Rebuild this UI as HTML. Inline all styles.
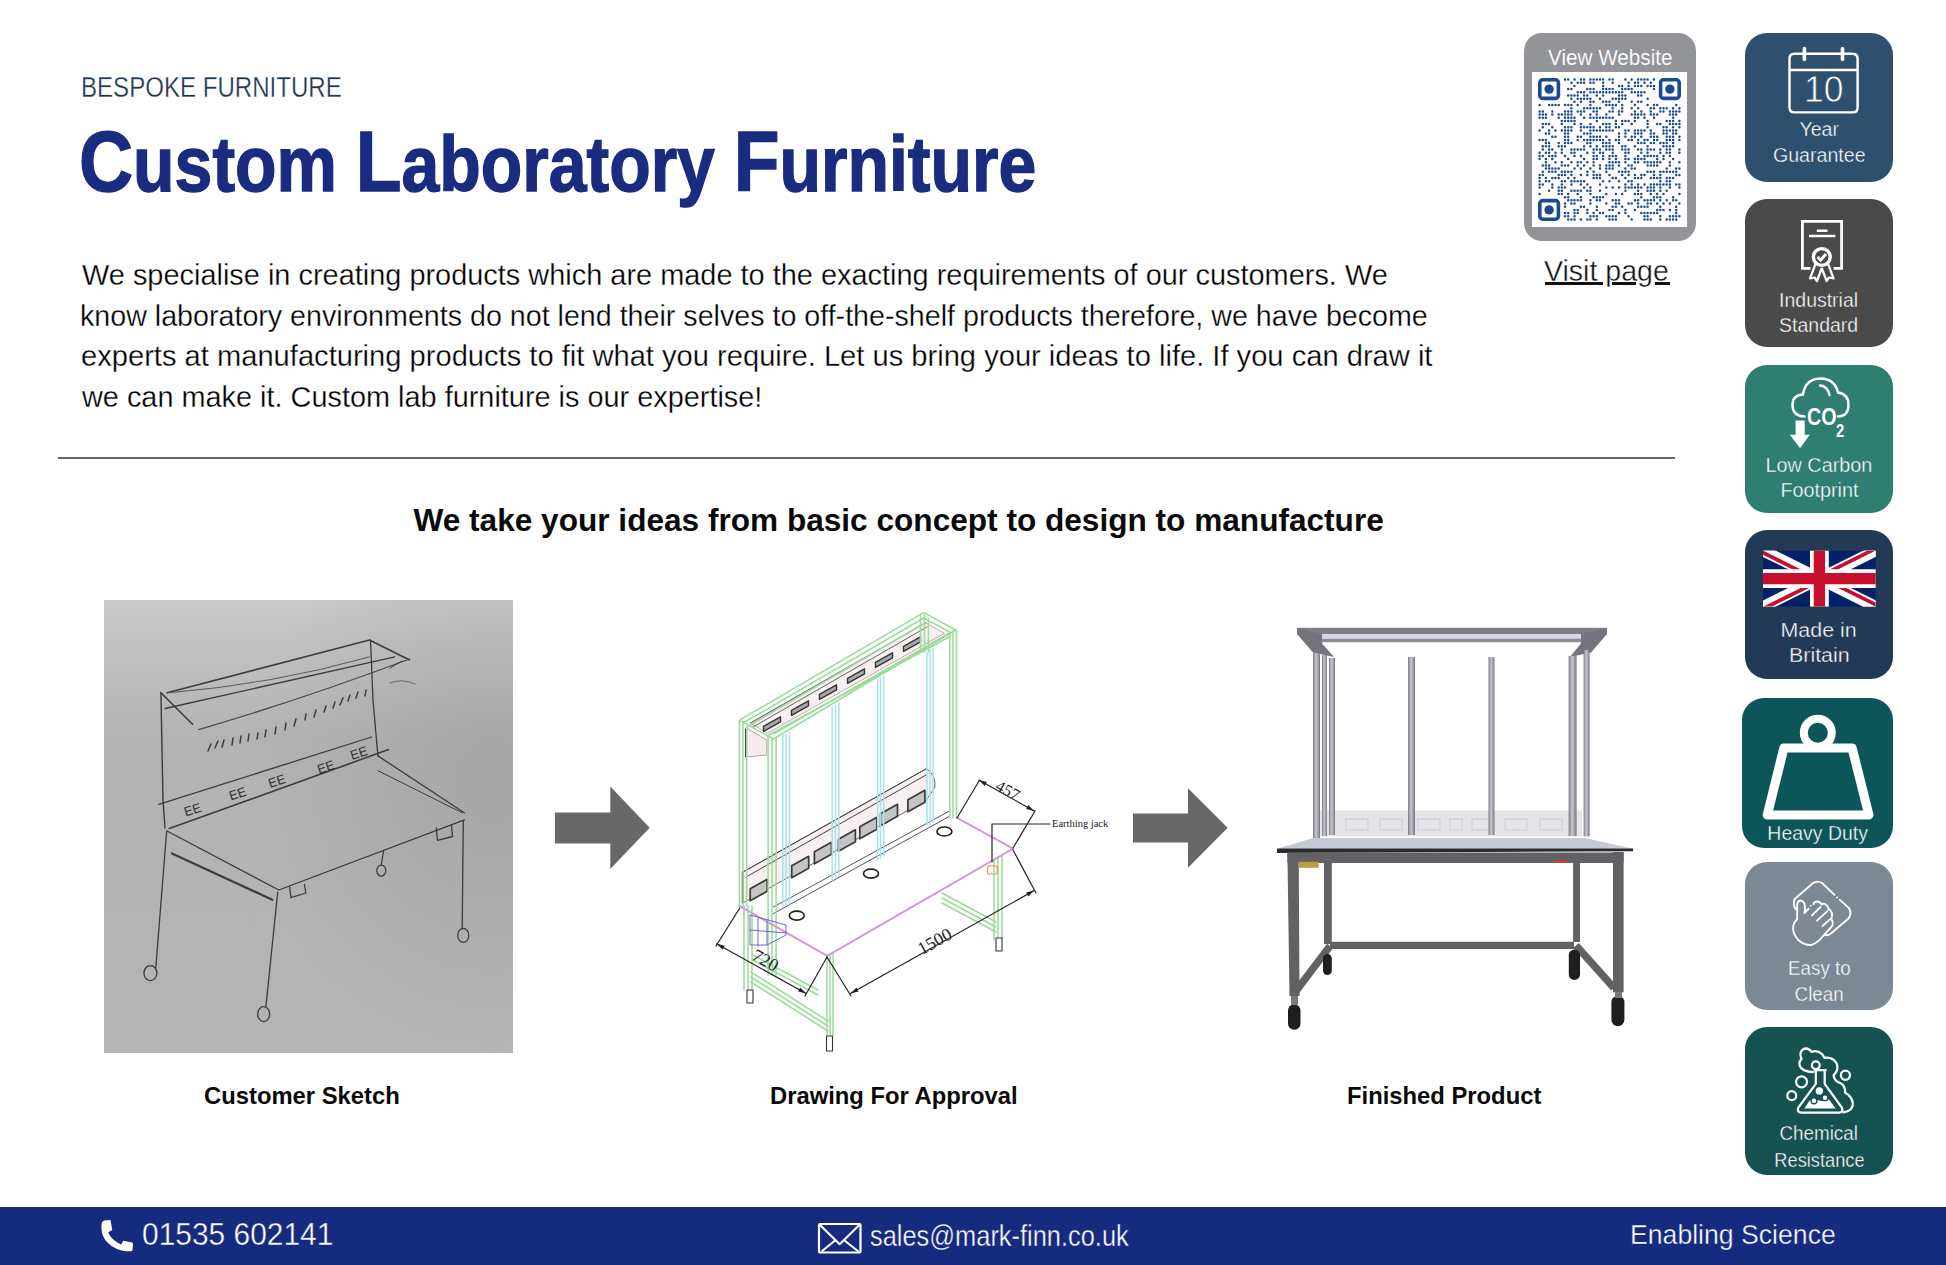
<!DOCTYPE html>
<html><head><meta charset="utf-8">
<style>
html,body{margin:0;padding:0;background:#fff;}
body{width:1946px;height:1265px;position:relative;overflow:hidden;font-family:"Liberation Sans",sans-serif;}
.a{position:absolute;white-space:nowrap;transform-origin:0 0;line-height:1;}
.box{position:absolute;border-radius:22px;}
.lbl{position:absolute;left:0;width:148px;text-align:center;color:#fff;font-size:20px;line-height:26px;white-space:nowrap;}
.lbl span{display:inline-block;}
svg{position:absolute;overflow:visible;}
</style></head><body>

<!-- header text -->
<div class="a m" id="sub" style="left:81px;top:73px;font-size:29px;color:#1d3651;-webkit-text-stroke:0.3px #fff;transform:scaleX(0.83)">BESPOKE FURNITURE</div>
<div class="a m" id="title" style="left:78.5px;top:118px;font-size:78px;font-weight:700;color:#1a2c80;-webkit-text-stroke:1.4px #1a2c80;transform:scaleX(0.871)"><span style="font-size:86px">C</span>ustom <span style="font-size:86px">L</span>aboratory <span style="font-size:86px">F</span>urniture</div>

<div class="a m" id="b1" style="left:81.5px;top:260px;font-size:30px;color:#000;-webkit-text-stroke:0.3px #fff;transform:scaleX(0.964)">We specialise in creating products which are made to the exacting requirements of our customers. We</div>
<div class="a m" id="b2" style="left:79.6px;top:301px;font-size:30px;color:#000;-webkit-text-stroke:0.3px #fff;transform:scaleX(0.9546)">know laboratory environments do not lend their selves to off-the-shelf products therefore, we have become</div>
<div class="a m" id="b3" style="left:80.6px;top:341px;font-size:30px;color:#000;-webkit-text-stroke:0.3px #fff;transform:scaleX(0.9706)">experts at manufacturing products to fit what you require. Let us bring your ideas to life. If you can draw it</div>
<div class="a m" id="b4" style="left:81.5px;top:382px;font-size:30px;color:#000;-webkit-text-stroke:0.3px #fff;transform:scaleX(0.9624)">we can make it. Custom lab furniture is our expertise!</div>

<div style="position:absolute;left:58px;top:457px;width:1617px;height:2px;background:#676767"></div>

<div class="a m" id="h2" style="left:413.5px;top:505px;font-size:31.6px;font-weight:700;color:#0a0a0a">We take your ideas from basic concept to design to manufacture</div>

<div class="a m" id="c1" style="left:204px;top:1084px;font-size:23.8px;font-weight:700;color:#0a0a0a">Customer Sketch</div>
<div class="a m" id="c2" style="left:770px;top:1084px;font-size:23.8px;font-weight:700;color:#0a0a0a">Drawing For Approval</div>
<div class="a m" id="c3" style="left:1347px;top:1084px;font-size:23.8px;font-weight:700;color:#0a0a0a">Finished Product</div>

<!-- images overlay -->
<svg style="left:0;top:0" width="1946" height="1265" viewBox="0 0 1946 1265">
<defs>
<linearGradient id="sg" x1="0" y1="0" x2="0" y2="1">
<stop offset="0" stop-color="#c9c9c9"/><stop offset="0.3" stop-color="#b3b3b3"/><stop offset="1" stop-color="#b4b4b4"/>
</linearGradient>
<radialGradient id="sr" cx="0.95" cy="0.4" r="0.6">
<stop offset="0" stop-color="#9c9c9c" stop-opacity="0.55"/><stop offset="1" stop-color="#9c9c9c" stop-opacity="0"/>
</radialGradient>
</defs>
<!-- sketch -->
<rect x="104" y="600" width="409" height="453" fill="url(#sg)"/>
<rect x="104" y="600" width="409" height="453" fill="url(#sr)"/>
<g fill="none" stroke="#3c3c3c" stroke-width="1.3" stroke-linecap="round" stroke-linejoin="round">
<path d="M167.2 692.7L369.5 640L409.5 660" stroke-width="1.6"/>
<path d="M165.1 708.5L394.8 656.9"/>
<path d="M198.8 729.6Q300 700 409.5 659" stroke="#4a4a4a"/>
<path d="M167 693Q272.6 684.3 369.5 656.9" stroke="#5a5a5a" stroke-width="1"/>
<path d="M160.9 692.7L163 800L165 828" stroke-width="1.4"/>
<path d="M160.9 692.7L192.5 724.3" stroke-width="1.6"/>
<path d="M370.5 640L373 700L377.9 755.9"/>
<path d="M158.8 804.4L371.6 737"/>
<path d="M169.3 828.6L388.5 749.6" stroke-width="1.6"/>
<path d="M377.9 755.9L464.3 812.8"/>
<path d="M377.9 770.7L462.2 812.8" stroke-width="1"/>
<path d="M166.6 830.7L278.8 890L464.4 819.9"/>
<path d="M172 853.4L272.3 899.8" stroke-width="2.2"/>
<path d="M166.6 831.8L155.8 967.7"/>
<path d="M277.7 892.2L265.9 1006.6"/>
<path d="M463.3 821L462.2 928.9"/>
<path d="M383.5 851L381.3 864.5"/>
<path d="M289.6 887L291 897.6L305.8 893L304.5 884.5"/>
<path d="M436.3 828L437.5 840.4L452.5 836.5L451.5 825"/>
<path d="M390 683Q402 678 415 684" stroke="#6a6a6a" stroke-width="1"/>
<path d="M402 661L390 668" stroke-width="1"/>
</g>
<g fill="none" stroke="#3c3c3c" stroke-width="1.3">
<ellipse cx="150.4" cy="973.1" rx="6.5" ry="7.5"/>
<ellipse cx="263.7" cy="1014.1" rx="6" ry="7.5"/>
<ellipse cx="463.3" cy="935.4" rx="5.5" ry="7"/>
<ellipse cx="381.3" cy="870.6" rx="4.5" ry="5.5"/>
</g>
<g stroke="#3a3a3a" stroke-width="1.5" stroke-linecap="round">
<path d="M211 744L208 751M218 741L215 748M224 740L222 747M233 738L232 745M241 736L240 743M249 734L248 741M258 733L257 739M266 730L265 737M276 727L275 734M286 723L285 730M296 719L294 726M306 714L305 720M316 710L314 717M326 706L324 712M335 702L333 708M343 698L340 705M350 695L348 701M358 692L356 698M366 690L365 696"/>
</g>
<g font-family="Liberation Sans" font-size="13" fill="#333">
<text x="184" y="815" transform="rotate(-18 190 810)">EE</text>
<text x="229" y="799" transform="rotate(-18 235 794)">EE</text>
<text x="268" y="786" transform="rotate(-18 275 781)">EE</text>
<text x="317" y="772" transform="rotate(-18 324 767)">EE</text>
<text x="350" y="758" transform="rotate(-18 357 753)">EE</text>
</g>

<!-- CAD drawing -->
<g fill="none" stroke-linecap="round" stroke-linejoin="round">
<!-- top socket beam -->
<path d="M750.7 722.9L925.7 622.7L944.5 633.4L768 733Z" stroke="#c8a8a8" stroke-width="1" fill="#f7f0f0"/>
<path d="M750.7 722.9L925.7 622.7M753 727L927 627" stroke="#555" stroke-width="0.9"/>
<path d="M746.7 728.3L766.8 740L766.8 755L746.7 757Z" stroke="#c09a9a" stroke-width="1" fill="#f5eded"/>
<path d="M745.5 729V757" stroke="#444" stroke-width="1"/>
<g stroke="#333" stroke-width="1.4" fill="#aaa">
<path d="M763.5 726.3l17 -9.5v5l-17 9.5z"/><path d="M791.5 710.3l17 -9.5v5l-17 9.5z"/><path d="M819.5 694.3l17 -9.5v5l-17 9.5z"/><path d="M847.5 678.3l17 -9.5v5l-17 9.5z"/><path d="M875.5 662.3l17 -9.5v5l-17 9.5z"/><path d="M903.5 646.3l17 -9.5v5l-17 9.5z"/>
</g>
<!-- lower socket strip -->
<path d="M742.7 872.2L926.4 768.7Q936 775 935 787L926.4 800L742.7 903Z" stroke="#666" stroke-width="1" fill="#f8f0f0"/>
<path d="M742.7 872.2L926.4 768.7M746 877L926 775" stroke="#444" stroke-width="1"/>
<path d="M742.7 872.2V903" stroke="#333" stroke-width="1.6"/>
<g stroke="#3a3a3a" stroke-width="1.7" fill="#c4c4c4">
<path d="M750.2 888.8l17 -9.5v12l-17 9.5z"/><path d="M791.7 865.8l17 -9.5v12l-17 9.5z"/><path d="M814.4 851.8l17 -9.5v12l-17 9.5z"/><path d="M838.4 839.3l17 -9.5v12l-17 9.5z"/><path d="M859.8 826.8l17 -9.5v12l-17 9.5z"/><path d="M880.5 813.8l17 -9.5v12l-17 9.5z"/><path d="M907.9 799.8l17 -9.5v12l-17 9.5z"/>
</g>
<path d="M773.4 907L949.8 810.8M773.4 913.6L949.8 816.1" stroke="#555" stroke-width="1"/>
<!-- green frame: tube outlines -->
<g stroke="#98dc98" stroke-width="1.5">
<path d="M739.4 720.2L923.7 612.7L955.8 630L773.4 739Z"/>
<path d="M744 722.5L923.7 618L950.5 632.5L773.4 734"/>
<path d="M747 727L923 624M767 736L949 637"/>
<path d="M739.4 720.2V906M743 722V906M746.7 726V906"/>
<path d="M768.1 737V975M772 739V975M776.1 737V975"/>
<path d="M949.8 632V817.4M953 631V817.4M956.5 630V817.4"/>
<path d="M920.4 616V652M924.5 614V652M928.4 618V652"/>
<path d="M744 906V990M748 906V990M752 906V990"/>
<path d="M827 956V1035M830 955V1035M833 953V1035"/>
<path d="M994 860V940M998 857V940M1002 855V940"/>
<path d="M751 972L828 1021M751 977L828 1026M751 982L828 1031"/>
<path d="M942 893L996 922M942 898L996 927M942 903L996 932"/>
<path d="M753 955L818 990M753 960L818 995"/>
</g>
<!-- cyan verticals -->
<g stroke="#a8e2ea" stroke-width="1.5">
<path d="M782.8 735V907M786 734V906M789.5 732V904"/>
<path d="M832.2 707V880M835.5 705V878M838.9 703V876"/>
<path d="M877.6 680V860M880.5 678V858M883.7 676V856"/>
<path d="M927 652V826M930 650V824M933 649V822"/>
</g>
<!-- table top -->
<path d="M739.8 906.1L827.2 955.9L1013.1 848.6L956.7 817.6" stroke="#d29ad6" stroke-width="2"/>
<g stroke="#222" stroke-width="1.6">
<ellipse cx="796.8" cy="915.6" rx="7.5" ry="4.5"/><ellipse cx="871" cy="873.6" rx="7.5" ry="4.5"/><ellipse cx="944.4" cy="831.5" rx="7.5" ry="4.5"/>
</g>
<!-- blue drawer -->
<path d="M750 915V945H767L786 935V925L750 915M758 918V946M767 921V945M750 930L786 933" stroke="#6a6ad0" stroke-width="1"/>
<!-- casters -->
<g stroke="#333" stroke-width="1.1" fill="#fff">
<rect x="747" y="990" width="6" height="13"/><rect x="826.5" y="1036" width="6" height="15"/><rect x="996" y="938" width="6" height="13"/>
</g>
<!-- dims -->
<g stroke="#222" stroke-width="1.2">
<path d="M716.6 943.8L806.2 993.5M739.8 908L716 946M827 957L805 996"/>
<path d="M850.5 993.5L1034.2 890.6M827 957L851 996M1013 850L1036 893"/>
<path d="M978.8 780L1034.2 811M957 818L979 781M1013 848L1035 811"/>
<path d="M992 824H1050M992 824V862"/>
</g>
<g fill="#222">
<path d="M716.6 943.8l8 2l-2 4z"/><path d="M806.2 993.5l-8 -2l2 -4z"/>
<path d="M850.5 993.5l6 -6l2 4z"/><path d="M1034.2 890.6l-6 6l-2 -4z"/>
<path d="M978.8 780l8 2l-2 4z"/><path d="M1034.2 811l-8 -2l2 -4z"/>
</g>
<path d="M988 866h9v8h-9z" stroke="#e0904a" stroke-width="1"/>
</g>
<g font-family="Liberation Serif" fill="#222">
<text x="752" y="966" font-size="18" transform="rotate(29 765 960)">720</text>
<text x="916" y="947" font-size="18" transform="rotate(-29 935 940)">1500</text>
<text x="996" y="797" font-size="16.5" transform="rotate(29 1010 790)">457</text>
<text x="1052" y="827" font-size="10.5">Earthing jack</text>
</g>

<!-- finished product -->
<defs>
<linearGradient id="pg" x1="0" y1="0" x2="1" y2="0">
<stop offset="0" stop-color="#7c7c84"/><stop offset="0.45" stop-color="#c8c8d0"/><stop offset="1" stop-color="#76767e"/>
</linearGradient>
</defs>
<g>
<rect x="1297" y="627.8" width="310" height="6.5" fill="#7e7e86"/>
<rect x="1322" y="634" width="259" height="4.7" fill="#d8d8e4"/>
<rect x="1322" y="638.7" width="259" height="3.5" fill="#8c8c94"/>
<path d="M1297 628L1322 634V643.5L1334 657L1313 652.5L1297 634Z" fill="#74747c"/>
<path d="M1607 628L1581 634V643.5L1570 657L1591 652.5L1607 634Z" fill="#74747c"/>
<rect x="1320" y="810.5" width="262" height="26" fill="#e4e4e9"/>
<g fill="none" stroke="#d0d0d8" stroke-width="1.2">
<rect x="1346" y="819" width="22" height="11"/><rect x="1380" y="819" width="22" height="11"/><rect x="1418" y="819" width="22" height="11"/>
<rect x="1450" y="819" width="12" height="11"/><rect x="1472" y="819" width="22" height="11"/><rect x="1505" y="819" width="22" height="11"/><rect x="1540" y="819" width="22" height="11"/>
</g>
<g fill="url(#pg)">
<rect x="1313" y="653" width="7" height="185"/>
<rect x="1322" y="655" width="5" height="181"/>
<rect x="1329" y="658" width="6" height="177"/>
<rect x="1408" y="657" width="7" height="178"/>
<rect x="1488.5" y="657" width="6" height="178"/>
<rect x="1568.6" y="656" width="8" height="180"/>
<rect x="1583.6" y="650" width="6" height="186.5"/>
</g>

<path d="M1313.5 838H1585.3L1633.1 848.7H1277Z" fill="#c6c9d6"/>
<path d="M1277 848.5H1633.1V851.3L1277 853Z" fill="#2a2a30"/>
<g fill="#626264">
<rect x="1287.4" y="852.5" width="336.2" height="10.5"/>
<path d="M1287.4 853H1298.7L1299.5 996H1289.5Z"/>
<rect x="1324" y="862" width="7.8" height="82"/>
<rect x="1573.1" y="862" width="6.9" height="80"/>
<rect x="1613" y="852" width="10.6" height="140.3"/>
<rect x="1330" y="941.8" width="244" height="7.2"/>
</g>
<path d="M1296 991L1330 946M1576 945.5L1614 988" stroke="#626264" stroke-width="7.5"/>
<g fill="#1e1e20">
<rect x="1288" y="1004.4" width="12.5" height="25.3" rx="6"/><rect x="1323" y="954" width="8.8" height="21" rx="4.4"/>
<rect x="1568.8" y="949.6" width="11.2" height="30.4" rx="5.6"/><rect x="1611.4" y="995.7" width="13" height="30.5" rx="6.5"/>
</g>
<g fill="#7a7a7c"><rect x="1291" y="996" width="7" height="9"/><rect x="1615" y="992" width="7" height="6"/></g>
<rect x="1298.7" y="861.8" width="20" height="6" fill="#b8a040"/>
<rect x="1554" y="860" width="14" height="2.5" fill="#c04040"/>
</g>
</svg>

<!-- arrows -->
<svg style="left:0;top:0" width="1946" height="1265" viewBox="0 0 1946 1265">
<path d="M555 812.6H610.3V786.5L649.7 827.8L610.3 869.1V843.5H555Z" fill="#686868"/>
<path d="M1133 813.5H1188V788.3L1227.7 827.8L1188 867.8V842.6H1133Z" fill="#686868"/>
</svg>

<!-- QR card -->
<div class="box" style="left:1524px;top:33px;width:172px;height:208px;background:#939498;border-radius:18px"></div>
<div style="position:absolute;left:1532px;top:72px;width:155px;height:155px;background:#fff"></div>
<div class="a m" id="vw" style="left:1548px;top:47px;font-size:22px;color:#fff;-webkit-text-stroke:0.15px #939498;transform:scaleX(0.94)">View Website</div>
<svg style="left:1538px;top:78px" width="143" height="143" viewBox="0 0 143 143">
<path d="M27.0 1.6h0M30.2 1.6h0M36.5 1.6h0M42.9 1.6h0M46.1 1.6h0M52.4 1.6h0M55.6 1.6h0M58.8 1.6h0M62.0 1.6h0M65.1 1.6h0M71.5 1.6h0M74.7 1.6h0M87.4 1.6h0M93.7 1.6h0M100.1 1.6h0M103.3 1.6h0M106.5 1.6h0M109.6 1.6h0M116.0 1.6h0M33.4 4.8h0M39.7 4.8h0M42.9 4.8h0M46.1 4.8h0M52.4 4.8h0M55.6 4.8h0M65.1 4.8h0M74.7 4.8h0M90.6 4.8h0M96.9 4.8h0M100.1 4.8h0M106.5 4.8h0M112.8 4.8h0M36.5 7.9h0M65.1 7.9h0M81.0 7.9h0M84.2 7.9h0M90.6 7.9h0M96.9 7.9h0M100.1 7.9h0M103.3 7.9h0M109.6 7.9h0M112.8 7.9h0M116.0 7.9h0M30.2 11.1h0M33.4 11.1h0M49.3 11.1h0M52.4 11.1h0M55.6 11.1h0M65.1 11.1h0M68.3 11.1h0M71.5 11.1h0M74.7 11.1h0M84.2 11.1h0M87.4 11.1h0M90.6 11.1h0M93.7 11.1h0M116.0 11.1h0M39.7 14.3h0M42.9 14.3h0M46.1 14.3h0M52.4 14.3h0M55.6 14.3h0M58.8 14.3h0M62.0 14.3h0M65.1 14.3h0M68.3 14.3h0M71.5 14.3h0M74.7 14.3h0M77.9 14.3h0M81.0 14.3h0M84.2 14.3h0M93.7 14.3h0M96.9 14.3h0M100.1 14.3h0M103.3 14.3h0M106.5 14.3h0M30.2 17.5h0M33.4 17.5h0M36.5 17.5h0M39.7 17.5h0M46.1 17.5h0M49.3 17.5h0M58.8 17.5h0M65.1 17.5h0M81.0 17.5h0M84.2 17.5h0M87.4 17.5h0M100.1 17.5h0M103.3 17.5h0M33.4 20.7h0M39.7 20.7h0M42.9 20.7h0M46.1 20.7h0M49.3 20.7h0M52.4 20.7h0M62.0 20.7h0M74.7 20.7h0M77.9 20.7h0M81.0 20.7h0M84.2 20.7h0M87.4 20.7h0M109.6 20.7h0M36.5 23.8h0M42.9 23.8h0M52.4 23.8h0M55.6 23.8h0M65.1 23.8h0M68.3 23.8h0M71.5 23.8h0M81.0 23.8h0M93.7 23.8h0M100.1 23.8h0M103.3 23.8h0M1.6 27.0h0M11.1 27.0h0M14.3 27.0h0M17.5 27.0h0M20.7 27.0h0M27.0 27.0h0M30.2 27.0h0M33.4 27.0h0M39.7 27.0h0M52.4 27.0h0M68.3 27.0h0M71.5 27.0h0M74.7 27.0h0M77.9 27.0h0M84.2 27.0h0M96.9 27.0h0M109.6 27.0h0M116.0 27.0h0M119.2 27.0h0M138.2 27.0h0M33.4 30.2h0M46.1 30.2h0M49.3 30.2h0M52.4 30.2h0M55.6 30.2h0M58.8 30.2h0M62.0 30.2h0M74.7 30.2h0M84.2 30.2h0M93.7 30.2h0M100.1 30.2h0M112.8 30.2h0M116.0 30.2h0M122.3 30.2h0M125.5 30.2h0M128.7 30.2h0M135.1 30.2h0M141.4 30.2h0M1.6 33.4h0M4.8 33.4h0M14.3 33.4h0M27.0 33.4h0M30.2 33.4h0M33.4 33.4h0M39.7 33.4h0M42.9 33.4h0M46.1 33.4h0M55.6 33.4h0M58.8 33.4h0M71.5 33.4h0M74.7 33.4h0M81.0 33.4h0M84.2 33.4h0M96.9 33.4h0M103.3 33.4h0M112.8 33.4h0M122.3 33.4h0M125.5 33.4h0M131.9 33.4h0M135.1 33.4h0M138.2 33.4h0M141.4 33.4h0M1.6 36.5h0M4.8 36.5h0M7.9 36.5h0M14.3 36.5h0M20.7 36.5h0M23.8 36.5h0M27.0 36.5h0M30.2 36.5h0M33.4 36.5h0M42.9 36.5h0M52.4 36.5h0M58.8 36.5h0M68.3 36.5h0M81.0 36.5h0M93.7 36.5h0M96.9 36.5h0M100.1 36.5h0M103.3 36.5h0M106.5 36.5h0M112.8 36.5h0M116.0 36.5h0M119.2 36.5h0M131.9 36.5h0M135.1 36.5h0M138.2 36.5h0M1.6 39.7h0M4.8 39.7h0M7.9 39.7h0M20.7 39.7h0M27.0 39.7h0M30.2 39.7h0M33.4 39.7h0M36.5 39.7h0M46.1 39.7h0M52.4 39.7h0M55.6 39.7h0M58.8 39.7h0M62.0 39.7h0M65.1 39.7h0M68.3 39.7h0M71.5 39.7h0M74.7 39.7h0M96.9 39.7h0M100.1 39.7h0M106.5 39.7h0M116.0 39.7h0M135.1 39.7h0M23.8 42.9h0M27.0 42.9h0M30.2 42.9h0M33.4 42.9h0M36.5 42.9h0M58.8 42.9h0M77.9 42.9h0M84.2 42.9h0M87.4 42.9h0M90.6 42.9h0M96.9 42.9h0M109.6 42.9h0M128.7 42.9h0M131.9 42.9h0M135.1 42.9h0M141.4 42.9h0M4.8 46.1h0M7.9 46.1h0M11.1 46.1h0M23.8 46.1h0M36.5 46.1h0M42.9 46.1h0M52.4 46.1h0M65.1 46.1h0M68.3 46.1h0M71.5 46.1h0M77.9 46.1h0M84.2 46.1h0M93.7 46.1h0M109.6 46.1h0M119.2 46.1h0M122.3 46.1h0M131.9 46.1h0M135.1 46.1h0M138.2 46.1h0M141.4 46.1h0M4.8 49.3h0M14.3 49.3h0M27.0 49.3h0M30.2 49.3h0M33.4 49.3h0M42.9 49.3h0M46.1 49.3h0M49.3 49.3h0M52.4 49.3h0M55.6 49.3h0M62.0 49.3h0M68.3 49.3h0M71.5 49.3h0M77.9 49.3h0M81.0 49.3h0M109.6 49.3h0M125.5 49.3h0M128.7 49.3h0M135.1 49.3h0M141.4 49.3h0M1.6 52.4h0M11.1 52.4h0M17.5 52.4h0M23.8 52.4h0M27.0 52.4h0M30.2 52.4h0M33.4 52.4h0M42.9 52.4h0M52.4 52.4h0M55.6 52.4h0M58.8 52.4h0M62.0 52.4h0M65.1 52.4h0M68.3 52.4h0M71.5 52.4h0M74.7 52.4h0M87.4 52.4h0M90.6 52.4h0M96.9 52.4h0M100.1 52.4h0M103.3 52.4h0M106.5 52.4h0M112.8 52.4h0M125.5 52.4h0M128.7 52.4h0M131.9 52.4h0M135.1 52.4h0M138.2 52.4h0M7.9 55.6h0M11.1 55.6h0M27.0 55.6h0M30.2 55.6h0M46.1 55.6h0M49.3 55.6h0M52.4 55.6h0M81.0 55.6h0M87.4 55.6h0M96.9 55.6h0M100.1 55.6h0M103.3 55.6h0M112.8 55.6h0M116.0 55.6h0M125.5 55.6h0M128.7 55.6h0M135.1 55.6h0M138.2 55.6h0M14.3 58.8h0M17.5 58.8h0M27.0 58.8h0M30.2 58.8h0M39.7 58.8h0M42.9 58.8h0M52.4 58.8h0M55.6 58.8h0M58.8 58.8h0M62.0 58.8h0M68.3 58.8h0M81.0 58.8h0M87.4 58.8h0M93.7 58.8h0M96.9 58.8h0M103.3 58.8h0M112.8 58.8h0M116.0 58.8h0M119.2 58.8h0M128.7 58.8h0M131.9 58.8h0M135.1 58.8h0M141.4 58.8h0M1.6 62.0h0M4.8 62.0h0M7.9 62.0h0M27.0 62.0h0M30.2 62.0h0M39.7 62.0h0M46.1 62.0h0M49.3 62.0h0M52.4 62.0h0M55.6 62.0h0M58.8 62.0h0M62.0 62.0h0M65.1 62.0h0M71.5 62.0h0M77.9 62.0h0M81.0 62.0h0M90.6 62.0h0M93.7 62.0h0M100.1 62.0h0M106.5 62.0h0M109.6 62.0h0M116.0 62.0h0M119.2 62.0h0M128.7 62.0h0M131.9 62.0h0M135.1 62.0h0M141.4 62.0h0M7.9 65.1h0M11.1 65.1h0M20.7 65.1h0M27.0 65.1h0M30.2 65.1h0M33.4 65.1h0M49.3 65.1h0M52.4 65.1h0M65.1 65.1h0M68.3 65.1h0M71.5 65.1h0M81.0 65.1h0M100.1 65.1h0M103.3 65.1h0M106.5 65.1h0M112.8 65.1h0M116.0 65.1h0M122.3 65.1h0M125.5 65.1h0M128.7 65.1h0M135.1 65.1h0M4.8 68.3h0M7.9 68.3h0M11.1 68.3h0M20.7 68.3h0M23.8 68.3h0M27.0 68.3h0M46.1 68.3h0M52.4 68.3h0M58.8 68.3h0M65.1 68.3h0M68.3 68.3h0M71.5 68.3h0M74.7 68.3h0M84.2 68.3h0M87.4 68.3h0M96.9 68.3h0M109.6 68.3h0M125.5 68.3h0M128.7 68.3h0M131.9 68.3h0M135.1 68.3h0M4.8 71.5h0M11.1 71.5h0M14.3 71.5h0M23.8 71.5h0M33.4 71.5h0M36.5 71.5h0M39.7 71.5h0M42.9 71.5h0M46.1 71.5h0M55.6 71.5h0M58.8 71.5h0M62.0 71.5h0M68.3 71.5h0M71.5 71.5h0M74.7 71.5h0M84.2 71.5h0M87.4 71.5h0M90.6 71.5h0M100.1 71.5h0M103.3 71.5h0M109.6 71.5h0M112.8 71.5h0M116.0 71.5h0M122.3 71.5h0M128.7 71.5h0M131.9 71.5h0M141.4 71.5h0M1.6 74.7h0M7.9 74.7h0M11.1 74.7h0M17.5 74.7h0M23.8 74.7h0M33.4 74.7h0M36.5 74.7h0M49.3 74.7h0M55.6 74.7h0M62.0 74.7h0M65.1 74.7h0M74.7 74.7h0M87.4 74.7h0M90.6 74.7h0M103.3 74.7h0M109.6 74.7h0M122.3 74.7h0M128.7 74.7h0M131.9 74.7h0M141.4 74.7h0M1.6 77.9h0M4.8 77.9h0M11.1 77.9h0M14.3 77.9h0M17.5 77.9h0M27.0 77.9h0M36.5 77.9h0M42.9 77.9h0M55.6 77.9h0M58.8 77.9h0M65.1 77.9h0M71.5 77.9h0M74.7 77.9h0M77.9 77.9h0M87.4 77.9h0M100.1 77.9h0M106.5 77.9h0M109.6 77.9h0M112.8 77.9h0M116.0 77.9h0M119.2 77.9h0M125.5 77.9h0M131.9 77.9h0M1.6 81.0h0M7.9 81.0h0M14.3 81.0h0M30.2 81.0h0M46.1 81.0h0M55.6 81.0h0M58.8 81.0h0M65.1 81.0h0M71.5 81.0h0M77.9 81.0h0M87.4 81.0h0M90.6 81.0h0M96.9 81.0h0M100.1 81.0h0M103.3 81.0h0M106.5 81.0h0M119.2 81.0h0M125.5 81.0h0M135.1 81.0h0M7.9 84.2h0M17.5 84.2h0M23.8 84.2h0M33.4 84.2h0M39.7 84.2h0M42.9 84.2h0M49.3 84.2h0M55.6 84.2h0M71.5 84.2h0M74.7 84.2h0M77.9 84.2h0M81.0 84.2h0M87.4 84.2h0M96.9 84.2h0M100.1 84.2h0M106.5 84.2h0M109.6 84.2h0M112.8 84.2h0M116.0 84.2h0M119.2 84.2h0M122.3 84.2h0M131.9 84.2h0M141.4 84.2h0M4.8 87.4h0M7.9 87.4h0M11.1 87.4h0M23.8 87.4h0M27.0 87.4h0M30.2 87.4h0M39.7 87.4h0M46.1 87.4h0M55.6 87.4h0M62.0 87.4h0M68.3 87.4h0M71.5 87.4h0M74.7 87.4h0M81.0 87.4h0M90.6 87.4h0M93.7 87.4h0M109.6 87.4h0M112.8 87.4h0M116.0 87.4h0M119.2 87.4h0M131.9 87.4h0M7.9 90.6h0M11.1 90.6h0M14.3 90.6h0M17.5 90.6h0M20.7 90.6h0M36.5 90.6h0M42.9 90.6h0M52.4 90.6h0M62.0 90.6h0M68.3 90.6h0M71.5 90.6h0M74.7 90.6h0M87.4 90.6h0M93.7 90.6h0M96.9 90.6h0M128.7 90.6h0M138.2 90.6h0M141.4 90.6h0M4.8 93.7h0M11.1 93.7h0M14.3 93.7h0M17.5 93.7h0M23.8 93.7h0M27.0 93.7h0M30.2 93.7h0M33.4 93.7h0M49.3 93.7h0M55.6 93.7h0M68.3 93.7h0M81.0 93.7h0M84.2 93.7h0M87.4 93.7h0M90.6 93.7h0M109.6 93.7h0M112.8 93.7h0M116.0 93.7h0M122.3 93.7h0M125.5 93.7h0M128.7 93.7h0M131.9 93.7h0M135.1 93.7h0M138.2 93.7h0M1.6 96.9h0M4.8 96.9h0M20.7 96.9h0M23.8 96.9h0M27.0 96.9h0M33.4 96.9h0M42.9 96.9h0M49.3 96.9h0M55.6 96.9h0M58.8 96.9h0M62.0 96.9h0M71.5 96.9h0M84.2 96.9h0M90.6 96.9h0M96.9 96.9h0M103.3 96.9h0M106.5 96.9h0M116.0 96.9h0M122.3 96.9h0M138.2 96.9h0M141.4 96.9h0M1.6 100.1h0M7.9 100.1h0M14.3 100.1h0M17.5 100.1h0M20.7 100.1h0M30.2 100.1h0M36.5 100.1h0M55.6 100.1h0M58.8 100.1h0M62.0 100.1h0M74.7 100.1h0M77.9 100.1h0M87.4 100.1h0M96.9 100.1h0M100.1 100.1h0M103.3 100.1h0M112.8 100.1h0M116.0 100.1h0M119.2 100.1h0M122.3 100.1h0M128.7 100.1h0M131.9 100.1h0M135.1 100.1h0M1.6 103.3h0M7.9 103.3h0M11.1 103.3h0M23.8 103.3h0M27.0 103.3h0M33.4 103.3h0M36.5 103.3h0M39.7 103.3h0M42.9 103.3h0M46.1 103.3h0M65.1 103.3h0M71.5 103.3h0M81.0 103.3h0M90.6 103.3h0M93.7 103.3h0M122.3 103.3h0M128.7 103.3h0M131.9 103.3h0M1.6 106.5h0M4.8 106.5h0M14.3 106.5h0M23.8 106.5h0M33.4 106.5h0M42.9 106.5h0M49.3 106.5h0M62.0 106.5h0M87.4 106.5h0M93.7 106.5h0M100.1 106.5h0M106.5 106.5h0M112.8 106.5h0M116.0 106.5h0M119.2 106.5h0M122.3 106.5h0M125.5 106.5h0M128.7 106.5h0M131.9 106.5h0M138.2 106.5h0M141.4 106.5h0M1.6 109.6h0M14.3 109.6h0M20.7 109.6h0M23.8 109.6h0M27.0 109.6h0M46.1 109.6h0M52.4 109.6h0M68.3 109.6h0M74.7 109.6h0M81.0 109.6h0M87.4 109.6h0M90.6 109.6h0M93.7 109.6h0M96.9 109.6h0M100.1 109.6h0M103.3 109.6h0M109.6 109.6h0M112.8 109.6h0M116.0 109.6h0M122.3 109.6h0M131.9 109.6h0M141.4 109.6h0M11.1 112.8h0M20.7 112.8h0M23.8 112.8h0M33.4 112.8h0M36.5 112.8h0M39.7 112.8h0M42.9 112.8h0M49.3 112.8h0M52.4 112.8h0M62.0 112.8h0M87.4 112.8h0M100.1 112.8h0M109.6 112.8h0M112.8 112.8h0M116.0 112.8h0M122.3 112.8h0M128.7 112.8h0M1.6 116.0h0M20.7 116.0h0M23.8 116.0h0M30.2 116.0h0M39.7 116.0h0M52.4 116.0h0M68.3 116.0h0M77.9 116.0h0M84.2 116.0h0M96.9 116.0h0M100.1 116.0h0M103.3 116.0h0M112.8 116.0h0M119.2 116.0h0M125.5 116.0h0M141.4 116.0h0M27.0 119.2h0M30.2 119.2h0M42.9 119.2h0M55.6 119.2h0M58.8 119.2h0M62.0 119.2h0M65.1 119.2h0M103.3 119.2h0M116.0 119.2h0M119.2 119.2h0M122.3 119.2h0M135.1 119.2h0M30.2 122.3h0M33.4 122.3h0M36.5 122.3h0M39.7 122.3h0M42.9 122.3h0M52.4 122.3h0M58.8 122.3h0M62.0 122.3h0M74.7 122.3h0M77.9 122.3h0M81.0 122.3h0M96.9 122.3h0M100.1 122.3h0M106.5 122.3h0M109.6 122.3h0M112.8 122.3h0M116.0 122.3h0M122.3 122.3h0M128.7 122.3h0M135.1 122.3h0M138.2 122.3h0M27.0 125.5h0M33.4 125.5h0M36.5 125.5h0M52.4 125.5h0M68.3 125.5h0M77.9 125.5h0M81.0 125.5h0M90.6 125.5h0M93.7 125.5h0M100.1 125.5h0M109.6 125.5h0M112.8 125.5h0M119.2 125.5h0M125.5 125.5h0M131.9 125.5h0M141.4 125.5h0M27.0 128.7h0M42.9 128.7h0M46.1 128.7h0M58.8 128.7h0M74.7 128.7h0M77.9 128.7h0M84.2 128.7h0M100.1 128.7h0M103.3 128.7h0M106.5 128.7h0M109.6 128.7h0M122.3 128.7h0M138.2 128.7h0M36.5 131.9h0M39.7 131.9h0M49.3 131.9h0M58.8 131.9h0M71.5 131.9h0M74.7 131.9h0M87.4 131.9h0M96.9 131.9h0M119.2 131.9h0M122.3 131.9h0M125.5 131.9h0M131.9 131.9h0M138.2 131.9h0M27.0 135.1h0M30.2 135.1h0M36.5 135.1h0M39.7 135.1h0M49.3 135.1h0M55.6 135.1h0M62.0 135.1h0M65.1 135.1h0M81.0 135.1h0M87.4 135.1h0M103.3 135.1h0M106.5 135.1h0M109.6 135.1h0M112.8 135.1h0M116.0 135.1h0M119.2 135.1h0M138.2 135.1h0M27.0 138.2h0M30.2 138.2h0M36.5 138.2h0M52.4 138.2h0M55.6 138.2h0M58.8 138.2h0M68.3 138.2h0M71.5 138.2h0M74.7 138.2h0M77.9 138.2h0M90.6 138.2h0M106.5 138.2h0M109.6 138.2h0M122.3 138.2h0M131.9 138.2h0M135.1 138.2h0M138.2 138.2h0M141.4 138.2h0M30.2 141.4h0M33.4 141.4h0M36.5 141.4h0M42.9 141.4h0M49.3 141.4h0M52.4 141.4h0M58.8 141.4h0M71.5 141.4h0M74.7 141.4h0M77.9 141.4h0M93.7 141.4h0M106.5 141.4h0M109.6 141.4h0M112.8 141.4h0M122.3 141.4h0M128.7 141.4h0M131.9 141.4h0M135.1 141.4h0M138.2 141.4h0" stroke="#1b4a8e" stroke-width="2.5" stroke-linecap="round" fill="none"/>
<g fill="none" stroke="#1b4a8e" stroke-width="3.6">
<rect x="1.8" y="1.8" width="18.6" height="18.6" rx="3"/>
<rect x="122.6" y="1.8" width="18.6" height="18.6" rx="3"/>
<rect x="1.8" y="122.6" width="18.6" height="18.6" rx="3"/>
</g>
<g fill="#1b4a8e"><circle cx="11.1" cy="11.1" r="4.7"/><circle cx="131.9" cy="11.1" r="4.7"/><circle cx="11.1" cy="131.9" r="4.7"/></g>
</svg>
<div class="a m" id="vp" style="left:1544px;top:256px;font-size:30px;color:#111;-webkit-text-stroke:0.4px #fff;transform:scaleX(0.951)">Visit page</div>
<div style="position:absolute;left:1545px;top:281.8px;width:58px;height:2.8px;background:#111"></div><div style="position:absolute;left:1612.3px;top:281.8px;width:24.1px;height:2.8px;background:#111"></div><div style="position:absolute;left:1655.4px;top:281.8px;width:14.4px;height:2.8px;background:#111"></div>

<!-- right column boxes -->
<div class="box" style="left:1745px;top:33px;width:148px;height:149px;background:#2f4f6f">
  <div class="lbl" style="top:83px"><span style="-webkit-text-stroke:0.35px #2f4f6f;transform:scaleX(.98)">Year</span></div>
  <div class="lbl" style="top:109.4px"><span style="-webkit-text-stroke:0.35px #2f4f6f;transform:scaleX(.98)">Guarantee</span></div>
</div>
<div class="box" style="left:1745px;top:199px;width:148px;height:148px;background:#4a4a4a">
  <div class="lbl" style="top:87.8px"><span style="-webkit-text-stroke:0.35px #4a4a4a;transform:scaleX(.974)">Industrial</span></div>
  <div class="lbl" style="top:113.4px"><span style="-webkit-text-stroke:0.35px #4a4a4a;transform:scaleX(.974)">Standard</span></div>
</div>
<div class="box" style="left:1745px;top:365px;width:148px;height:148px;background:#2e7e71">
  <div class="lbl" style="top:87.1px"><span style="-webkit-text-stroke:0.35px #2e7e71;transform:scaleX(.99)">Low Carbon</span></div>
  <div class="lbl" style="top:112.4px"><span style="-webkit-text-stroke:0.35px #2e7e71;transform:scaleX(.99)">Footprint</span></div>
</div>
<div class="box" style="left:1745px;top:530px;width:148px;height:149px;background:#233a57">
  <div class="lbl" style="top:86.8px"><span style="-webkit-text-stroke:0.35px #233a57;transform:scaleX(1.07)">Made in</span></div>
  <div class="lbl" style="top:112.4px"><span style="-webkit-text-stroke:0.35px #233a57;transform:scaleX(1.07)">Britain</span></div>
</div>
<div class="box" style="left:1742px;top:698px;width:151px;height:150px;background:#0c5558">
  <div class="lbl" style="top:121.5px;width:151px"><span style="-webkit-text-stroke:0.35px #0c5558;transform:scaleX(.974)">Heavy Duty</span></div>
</div>
<div class="box" style="left:1745px;top:862px;width:148px;height:148px;background:#7b8896">
  <div class="lbl" style="top:93.3px"><span style="-webkit-text-stroke:0.35px #7b8896;transform:scaleX(.94)">Easy to</span></div>
  <div class="lbl" style="top:118.9px"><span style="-webkit-text-stroke:0.35px #7b8896;transform:scaleX(.94)">Clean</span></div>
</div>
<div class="box" style="left:1745px;top:1027px;width:148px;height:148px;background:#165252">
  <div class="lbl" style="top:93.3px"><span style="-webkit-text-stroke:0.35px #165252;transform:scaleX(.94)">Chemical</span></div>
  <div class="lbl" style="top:119.6px"><span style="-webkit-text-stroke:0.35px #165252;transform:scaleX(.912)">Resistance</span></div>
</div>

<!-- footer -->
<div style="position:absolute;left:0;top:1207px;width:1946px;height:58px;background:#162a80"></div>
<div class="a m" id="ph" style="left:141.5px;top:1219px;font-size:31.5px;color:#fff;-webkit-text-stroke:0.4px #162a80;transform:scaleX(0.95)">01535 602141</div>
<div class="a m" id="em" style="left:870px;top:1221.5px;font-size:29px;color:#fff;-webkit-text-stroke:0.4px #162a80;transform:scaleX(0.876)">sales@mark-finn.co.uk</div>
<div class="a m" id="es" style="left:1630px;top:1220.5px;font-size:28px;color:#fff;-webkit-text-stroke:0.4px #162a80;transform:scaleX(0.951)">Enabling Science</div>

<!-- icons overlay -->
<svg style="left:0;top:0" width="1946" height="1265" viewBox="0 0 1946 1265">
<!-- calendar -->
<g fill="none" stroke="#fff" stroke-width="2.4" stroke-linecap="round" stroke-linejoin="round">
<path d="M1802.5 53.8H1794.5Q1789.5 53.8 1789.5 58.8V107.4Q1789.5 112.4 1794.5 112.4H1852.6Q1857.6 112.4 1857.6 107.4V58.8Q1857.6 53.8 1852.6 53.8H1844.5M1806.3 53.8H1840.5M1789.5 70H1857.6"/>
<path d="M1804.4 48.5V59.5M1842.5 48.5V59.5" stroke-width="3.6"/>
</g>
<text x="1804" y="102.5" fill="#fff" stroke="#2f4f6f" stroke-width="0.8" font-family="Liberation Sans" font-size="37" transform="translate(1804 0) scale(0.96 1) translate(-1804 0)">10</text>
<!-- certificate -->
<g fill="none" stroke="#fff" stroke-width="2.8" stroke-linejoin="miter">
<path d="M1810.5 268.3H1802.4V221.3H1841.6V268.3H1833.5"/>
<path d="M1816.8 230.8H1827.5M1809 236H1835.3" stroke-width="2.5"/>
<circle cx="1821.8" cy="257" r="8.4" stroke-width="3.4"/>
<path d="M1817.6 257L1820.5 260L1826 254" stroke-width="3"/>
<path d="M1815.5 264L1810 278.5L1814.5 277.5L1817 281L1821.8 268M1828.1 264L1833.6 278.5L1829.1 277.5L1826.6 281L1821.8 268" stroke-width="2.2" stroke-linejoin="round"/>
</g>
<!-- cloud co2 -->
<g fill="none" stroke="#fff" stroke-width="2.4" stroke-linecap="round">
<path d="M1804.5 416.5Q1792.5 416 1792.5 405Q1792.5 395 1803 394.5Q1805 379 1820.5 378.5Q1835 379 1838 392.5Q1848.5 394 1848.5 405Q1848.5 416 1838 416.5"/>
<path d="M1820 385.5Q1827.5 386 1829.5 395"/>
</g>
<text x="1807" y="425.5" fill="#fff" font-family="Liberation Sans" font-weight="700" font-size="23.5" transform="translate(1807 0) scale(0.84 1) translate(-1807 0)">CO</text>
<text x="1836" y="436.8" fill="#fff" font-family="Liberation Sans" font-weight="700" font-size="18.5" transform="translate(1836 0) scale(0.8 1) translate(-1836 0)">2</text>
<path d="M1795.6 420.5H1804.7V434.7H1809.7L1800.1 448.2L1789.8 434.7H1795.6Z" fill="#fff"/>
<!-- weight -->
<circle cx="1817.8" cy="732.7" r="14" fill="none" stroke="#fff" stroke-width="8"/>
<path d="M1783.9 748H1852.1L1868.9 815H1767.3Z" fill="none" stroke="#fff" stroke-width="9.2" stroke-linejoin="round"/>
<!-- hand cloth -->
<g transform="translate(1785 875) scale(0.05928)" fill="none" stroke="#fff" stroke-width="32" stroke-linecap="round" stroke-linejoin="round">
<path d="M190 585Q125 520 160 410L470 140Q545 85 625 135L835 335M880 380h0M925 420L1075 555Q1135 640 1075 730L770 990Q720 1030 665 1010"/>
<path d="M480 490C500 440 580 420 615 500C650 470 720 490 735 570C780 600 810 660 780 740C820 790 810 850 770 890L640 1030Q560 1140 450 1180Q330 1190 230 1100Q120 990 140 860Q150 790 205 745"/>
<path d="M455 680L600 540M540 770L720 605M630 860L770 740"/>
<path d="M205 745L205 490Q215 430 265 430Q325 440 335 520Q345 590 325 640L400 570"/>
<path d="M435 520h0"/>
</g>
<!-- flask -->
<g transform="translate(1782 1043) scale(0.05928)" fill="none" stroke="#fff" stroke-width="38" stroke-linecap="round" stroke-linejoin="round">
<path d="M548 458H738M570 470V690L275 1090Q245 1175 330 1175H960Q1045 1175 1010 1090L720 690V470"/>
<circle cx="330" cy="655" r="93"/>
<circle cx="165" cy="888" r="75"/>
<circle cx="1070" cy="545" r="77"/>
<circle cx="570" cy="375" r="66"/>
<path d="M525 490Q390 490 320 420Q260 340 330 265Q280 170 350 110Q430 60 500 150Q590 110 680 190Q700 220 715 250Q860 230 925 350Q960 460 870 545Q880 640 990 680Q1070 720 1065 840Q1180 900 1195 1020Q1200 1140 1040 1170"/>
</g>
<g transform="translate(1782 1043) scale(0.05928)">
<path d="M375 1105L470 965Q540 930 610 965Q690 995 790 950L905 1105Z" fill="#fff"/>
<circle cx="540" cy="975" r="50" fill="#fff" stroke="#165252" stroke-width="24"/>
<circle cx="725" cy="922" r="50" fill="#fff" stroke="#165252" stroke-width="24"/>
<circle cx="630" cy="808" r="62" fill="#fff"/>
</g>
<!-- flag -->
<g transform="translate(1763 550.6) scale(1.88 1.873)">
<clipPath id="fc"><rect width="60" height="30"/></clipPath>
<clipPath id="ft"><path d="M30 15h30v15zv15h-30zh-30v-15zv-15h30z"/></clipPath>
<g clip-path="url(#fc)">
<rect width="60" height="30" fill="#012169"/>
<path d="M0 0L60 30M60 0L0 30" stroke="#fff" stroke-width="6"/>
<path d="M0 0L60 30M60 0L0 30" clip-path="url(#ft)" stroke="#C8102E" stroke-width="4"/>
<path d="M30 0V30M0 15H60" stroke="#fff" stroke-width="10"/>
<path d="M30 0V30M0 15H60" stroke="#C8102E" stroke-width="6"/>
</g></g>
<!-- footer phone -->
<path d="M101.9 1222.5Q102.5 1220.8 104.5 1220.5L110.5 1220L112.3 1229.9L108.3 1232.3C110 1237 114.5 1241.5 121.2 1244.6L123.2 1240.8L132.3 1242.4Q133 1243 133 1244.5L132.4 1250.5Q132 1251.3 130.5 1251.3C121 1251.5 113 1248.5 106.5 1241.5C101.5 1235.5 100.8 1228.5 101.9 1222.5Z" fill="#fff"/>
<!-- footer envelope -->
<g fill="none" stroke="#fff" stroke-width="2.2" stroke-linejoin="round">
<rect x="819" y="1224" width="41.5" height="28.5" rx="1"/>
<path d="M819.5 1224.5L839.7 1244.2L859.8 1224.5M821.5 1251.5L835 1240.5M844.5 1240.5L858.5 1251.5"/>
</g>
</svg>

</body></html>
